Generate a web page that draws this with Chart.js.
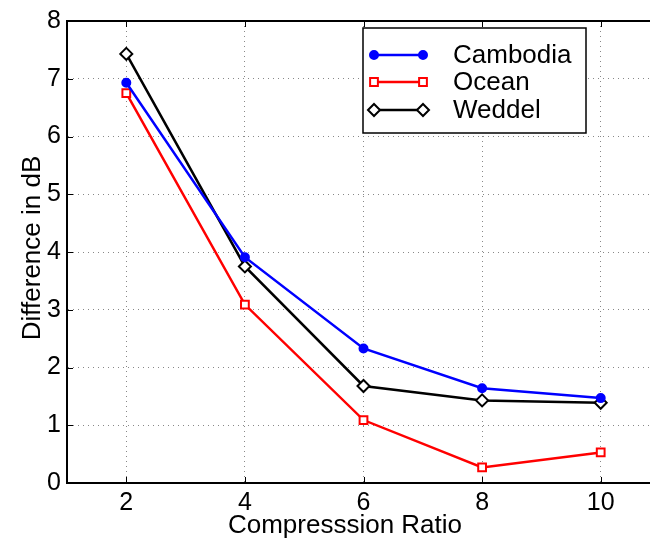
<!DOCTYPE html>
<html>
<head>
<meta charset="utf-8">
<script src="https://cdn.jsdelivr.net/npm/chart.js@4.4.0/dist/chart.umd.min.js"></script>
<style>
  html, body { margin: 0; padding: 0; background: #fff; width: 650px; height: 543px; overflow: hidden; }
  #wrap { width: 680px; height: 543px; }
</style>
</head>
<body>
<div id="wrap"><canvas id="chart" width="680" height="543"></canvas></div>
<script>
// data
const ratios = [2, 4, 6, 8, 10];
const cambodia = [6.93, 3.91, 2.33, 1.64, 1.47];
const ocean = [6.75, 3.09, 1.09, 0.27, 0.53];
const weddel = [7.43, 3.75, 1.68, 1.43, 1.39];
const xTicks = [2, 4, 6, 8, 10];
const yTicks = [0, 1, 2, 3, 4, 5, 6, 7, 8];

const FONT = "Liberation Sans, Arial, Helvetica, sans-serif";

function pts(vals) {
  return ratios.map((r, i) => ({ x: r, y: vals[i] }));
}

const series = [
  { label: "Cambodia", data: cambodia, color: "#0000ff", style: "circle", radius: 4, fill: "#0000ff" },
  { label: "Ocean", data: ocean, color: "#ff0000", style: "rect", radius: 5.5, fill: "#ffffff" },
  { label: "Weddel", data: weddel, color: "#000000", style: "rectRot", radius: 6, fill: "#ffffff" }
];

// axis titles, box, inner ticks, legend
const decorations = {
  id: "decorations",
  afterDraw(chart) {
    const ctx = chart.ctx;
    const a = chart.chartArea;
    const xs = chart.scales.x, ys = chart.scales.y;
    ctx.save();
    ctx.strokeStyle = "#000";
    ctx.lineWidth = 2;
    ctx.beginPath();
    ctx.moveTo(a.left, a.top);
    ctx.lineTo(a.right, a.top);
    ctx.lineTo(a.right, a.bottom);
    ctx.stroke();

    // small inward tick marks
    ctx.lineWidth = 1;
    ctx.beginPath();
    xTicks.forEach(v => {
      const px = Math.round(xs.getPixelForValue(v)) + 0.5;
      ctx.moveTo(px, a.bottom); ctx.lineTo(px, a.bottom - 6);
      ctx.moveTo(px, a.top); ctx.lineTo(px, a.top + 6);
    });
    yTicks.forEach(v => {
      const py = Math.round(ys.getPixelForValue(v)) + 0.5;
      ctx.moveTo(a.left, py); ctx.lineTo(a.left + 6, py);
      ctx.moveTo(a.right, py); ctx.lineTo(a.right - 6, py);
    });
    ctx.stroke();

    ctx.fillStyle = "#000";
    ctx.font = "26px " + FONT;
    ctx.textAlign = "center";
    ctx.textBaseline = "middle";
    ctx.fillText("Compresssion Ratio", 345, 526);

    ctx.translate(33, 248);
    ctx.rotate(-Math.PI / 2);
    ctx.fillText("Difference in dB", 0, 0);
    ctx.restore();

    // legend
    ctx.save();
    ctx.fillStyle = "#fff";
    ctx.fillRect(363, 28, 223, 105);
    ctx.strokeStyle = "#000";
    ctx.lineWidth = 1.5;
    ctx.strokeRect(363, 28, 223, 105);
    const rows = [55, 82, 110];
    series.forEach((s, i) => {
      const y = rows[i];
      ctx.strokeStyle = s.color;
      ctx.lineWidth = 2.5;
      ctx.beginPath();
      ctx.moveTo(374, y);
      ctx.lineTo(423, y);
      ctx.stroke();
      [374, 423].forEach(px => {
        ctx.fillStyle = s.fill;
        ctx.strokeStyle = s.color;
        ctx.lineWidth = 2;
        Chart.helpers.drawPoint(ctx, { pointStyle: s.style, radius: s.radius, borderWidth: 2, rotation: 0 }, px, y);
      });
      ctx.fillStyle = "#000";
      ctx.font = "26px " + FONT;
      ctx.textAlign = "left";
      ctx.textBaseline = "middle";
      ctx.fillText(s.label, 453, y + 1);
    });
    ctx.restore();
  }
};

new Chart(document.getElementById("chart"), {
  type: "line",
  data: {
    datasets: series.map(s => ({
      label: s.label,
      data: pts(s.data),
      borderColor: s.color,
      backgroundColor: s.fill,
      borderWidth: 2.5,
      pointStyle: s.style,
      pointRadius: s.radius,
      pointBorderWidth: 2,
      pointBorderColor: s.color,
      pointBackgroundColor: s.fill,
      tension: 0
    }))
  },
  options: {
    responsive: false,
    animation: false,
    layout: { padding: { top: 14, right: 20, left: 0, bottom: 0 } },
    plugins: { legend: { display: false }, tooltip: { enabled: false } },
    scales: {
      x: {
        type: "linear",
        min: 1,
        max: 11,
        afterBuildTicks: scale => { scale.ticks = xTicks.map(v => ({ value: v })); },
        afterFit: scale => { scale.height = 60; },
        ticks: { color: "#000", font: { family: FONT, size: 25 }, padding: 5, maxRotation: 0 },
        grid: { color: "#888", lineWidth: 1, tickLength: 0, drawTicks: false },
        border: { color: "#000", width: 2, dash: [1, 4] }
      },
      y: {
        min: 0,
        max: 8,
        afterBuildTicks: scale => { scale.ticks = yTicks.map(v => ({ value: v })); },
        afterFit: scale => { scale.width = 67; },
        ticks: { color: "#000", font: { family: FONT, size: 25 }, padding: 6 },
        grid: { color: "#888", lineWidth: 1, tickLength: 0, drawTicks: false },
        border: { color: "#000", width: 2, dash: [1, 4] }
      }
    }
  },
  plugins: [decorations]
});
</script>
</body>
</html>
